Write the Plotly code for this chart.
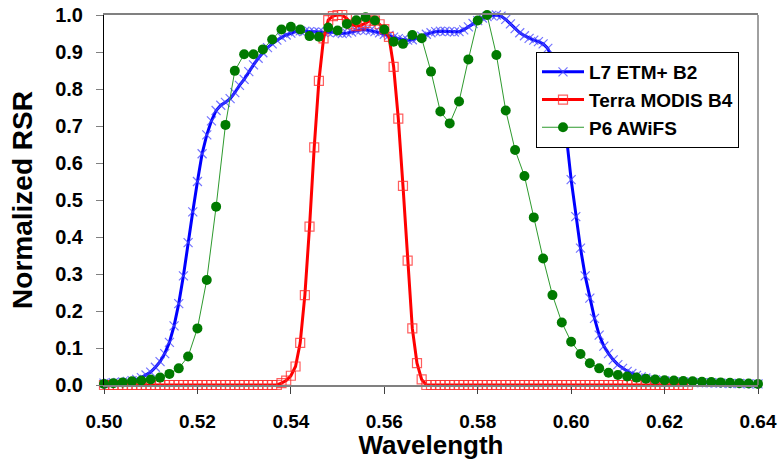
import plotly.graph_objects as go

# ---------------- data ----------------
# L7 ETM+ B2: 1 nm sampling, 0.500 .. 0.640 um
l7_rsr = [
    0.005, 0.005, 0.006, 0.007, 0.008, 0.010, 0.012, 0.015, 0.020, 0.027,
    0.035, 0.048, 0.063, 0.085, 0.115, 0.160, 0.220, 0.295, 0.385, 0.468,
    0.550, 0.625, 0.676, 0.714, 0.742, 0.756, 0.764, 0.774, 0.790, 0.810,
    0.826, 0.847, 0.865, 0.883, 0.898, 0.912, 0.922, 0.932, 0.940, 0.946,
    0.951, 0.955, 0.957, 0.956, 0.955, 0.954, 0.954, 0.953, 0.953, 0.954,
    0.952, 0.950, 0.951, 0.954, 0.958, 0.960, 0.960, 0.958, 0.955, 0.952,
    0.948, 0.945, 0.940, 0.936, 0.933, 0.932, 0.933, 0.937, 0.943, 0.948,
    0.952, 0.955, 0.956, 0.956, 0.955, 0.954, 0.955, 0.960, 0.968, 0.977,
    0.985, 0.992, 0.996, 0.999, 1.000, 0.997, 0.988, 0.976, 0.963, 0.952,
    0.944, 0.937, 0.932, 0.928, 0.922, 0.910, 0.880, 0.820, 0.740, 0.670,
    0.555, 0.455, 0.370, 0.295, 0.235, 0.180, 0.135, 0.105, 0.085, 0.068,
    0.055, 0.045, 0.037, 0.031, 0.026, 0.022, 0.019, 0.016, 0.014, 0.012,
    0.011, 0.010, 0.009, 0.009, 0.008, 0.008, 0.007, 0.007, 0.006, 0.006,
    0.006, 0.005, 0.005, 0.005, 0.004, 0.004, 0.004, 0.004, 0.003, 0.003,
    0.003,
]
l7_start, l7_step = 0.500, 0.001

# Terra MODIS B4: 1 nm sampling, 0.500 .. 0.625 um
modis_rsr = [
    0.0, 0.0, 0.0, 0.0, 0.0, 0.0, 0.0, 0.0, 0.0, 0.0,
    0.0, 0.0, 0.0, 0.0, 0.0, 0.0, 0.0, 0.0, 0.0, 0.0,
    0.0, 0.0, 0.0, 0.0, 0.0, 0.0, 0.0, 0.0, 0.0, 0.0,
    0.0, 0.0, 0.0, 0.0, 0.0, 0.0, 0.0, 0.0,
    0.005, 0.012, 0.025, 0.050, 0.114, 0.243, 0.428, 0.642, 0.822, 0.937,
    0.986, 0.997, 1.000, 1.000, 0.990, 0.975, 0.970, 0.972, 0.978, 0.985,
    0.985, 0.975, 0.962, 0.941, 0.860, 0.720, 0.538, 0.336, 0.153, 0.059,
    0.015,
    0.0, 0.0, 0.0, 0.0, 0.0, 0.0, 0.0, 0.0, 0.0, 0.0,
    0.0, 0.0, 0.0, 0.0, 0.0, 0.0, 0.0, 0.0, 0.0, 0.0,
    0.0, 0.0, 0.0, 0.0, 0.0, 0.0, 0.0, 0.0, 0.0, 0.0,
    0.0, 0.0, 0.0, 0.0, 0.0, 0.0, 0.0, 0.0, 0.0, 0.0,
    0.0, 0.0, 0.0, 0.0, 0.0, 0.0, 0.0, 0.0, 0.0, 0.0,
    0.0, 0.0, 0.0, 0.0, 0.0, 0.0, 0.0,
]
modis_start, modis_step = 0.500, 0.001

# P6 AWiFS: 2 nm sampling, 0.500 .. 0.640 um
awifs_rsr = [
    0.003, 0.005, 0.007, 0.010, 0.012, 0.015, 0.020, 0.030, 0.045, 0.077,
    0.153, 0.284, 0.482, 0.703, 0.849, 0.894, 0.894, 0.907, 0.934, 0.961,
    0.968, 0.961, 0.943, 0.941, 0.966, 0.958, 0.976, 0.986, 0.994, 0.985,
    0.961, 0.928, 0.922, 0.946, 0.937, 0.847, 0.739, 0.707, 0.766, 0.880,
    0.985, 1.000, 0.892, 0.742, 0.635, 0.565, 0.453, 0.342, 0.243, 0.169,
    0.117, 0.084, 0.059, 0.045, 0.033, 0.027, 0.023, 0.020, 0.017, 0.015,
    0.013, 0.012, 0.011, 0.010, 0.009, 0.008, 0.007, 0.006, 0.005, 0.004,
    0.003,
]
awifs_start, awifs_step = 0.500, 0.002

x_ticks = [0.50, 0.52, 0.54, 0.56, 0.58, 0.60, 0.62, 0.64]
x_tick_labels = ["0.50", "0.52", "0.54", "0.56", "0.58", "0.60", "0.62", "0.64"]
y_ticks = [0.0, 0.1, 0.2, 0.3, 0.4, 0.5, 0.6, 0.7, 0.8, 0.9, 1.0]
y_tick_labels = ["0.0", "0.1", "0.2", "0.3", "0.4", "0.5", "0.6", "0.7", "0.8", "0.9", "1.0"]

series_names = ["L7 ETM+ B2", "Terra MODIS B4", "P6 AWiFS"]


def grid(start, step, n):
    return [round(start + step * i, 3) for i in range(n)]


FONT = "Liberation Sans, Arial, sans-serif"

fig = go.Figure()

fig.add_trace(go.Scatter(
    x=grid(l7_start, l7_step, len(l7_rsr)), y=l7_rsr,
    name=series_names[0], mode="lines+markers",
    line=dict(color="#0000FF", width=3),
    marker=dict(symbol="x-thin", size=9,
                line=dict(color="rgba(70,70,255,0.75)", width=1.2)),
    cliponaxis=False,
))
fig.add_trace(go.Scatter(
    x=grid(modis_start, modis_step, len(modis_rsr)), y=modis_rsr,
    name=series_names[1], mode="lines+markers",
    line=dict(color="#FF0000", width=3),
    marker=dict(symbol="square-open", size=9,
                color="rgba(255,40,40,0.75)",
                line=dict(color="rgba(255,40,40,0.75)", width=1.2)),
    cliponaxis=False,
))
fig.add_trace(go.Scatter(
    x=grid(awifs_start, awifs_step, len(awifs_rsr)), y=awifs_rsr,
    name=series_names[2], mode="lines+markers",
    line=dict(color="#2E9A2E", width=1),
    marker=dict(symbol="circle", size=10, color="#007A00",
                line=dict(width=0)),
    cliponaxis=False,
))

fig.update_layout(
    width=780, height=460,
    margin=dict(l=104, r=22, t=15, b=75, autoexpand=False),
    paper_bgcolor="white", plot_bgcolor="white",
    font=dict(family=FONT, color="black"),
    showlegend=True,
    legend=dict(
        x=(536 - 104) / 654, y=(385 - 52) / 370,
        xanchor="left", yanchor="top",
        bgcolor="white", bordercolor="black", borderwidth=1,
        font=dict(family=FONT, size=19, color="black", weight="bold"),
        itemwidth=42, tracegroupgap=0,
    ),
    xaxis=dict(
        range=[0.50, 0.64], tickmode="array",
        tickvals=x_ticks, ticktext=x_tick_labels,
        showgrid=False, zeroline=False, automargin=False,
        showline=True, linecolor="#808080", linewidth=1.5, mirror=True,
        ticks="outside", ticklen=7, tickcolor="#404040", tickwidth=1,
        ticklabelstandoff=11,
        tickfont=dict(family=FONT, size=19, color="black", weight="bold"),
        title=dict(text="Wavelength", standoff=12,
                   font=dict(family=FONT, size=26, color="black", weight="bold")),
    ),
    yaxis=dict(
        range=[0.0, 1.0], tickmode="array",
        tickvals=y_ticks, ticktext=y_tick_labels,
        showgrid=False, zeroline=False, automargin=False,
        showline=True, linecolor="black", linewidth=1,
        ticks="outside", ticklen=7, tickcolor="#808080", tickwidth=1,
        ticklabelstandoff=9,
        tickfont=dict(family=FONT, size=20, color="black", weight="bold"),
        title=dict(text="Normalized RSR", standoff=14,
                   font=dict(family=FONT, size=28, color="black", weight="bold")),
    ),
    shapes=[dict(type="line", xref="paper", yref="paper",
                 x0=1, x1=1, y0=0, y1=1,
                 line=dict(color="#808080", width=1.5))],
)

fig.write_html("out.html",
               config={"displayModeBar": False},
               post_script="document.body.style.margin='0px';document.body.style.padding='0px';")
